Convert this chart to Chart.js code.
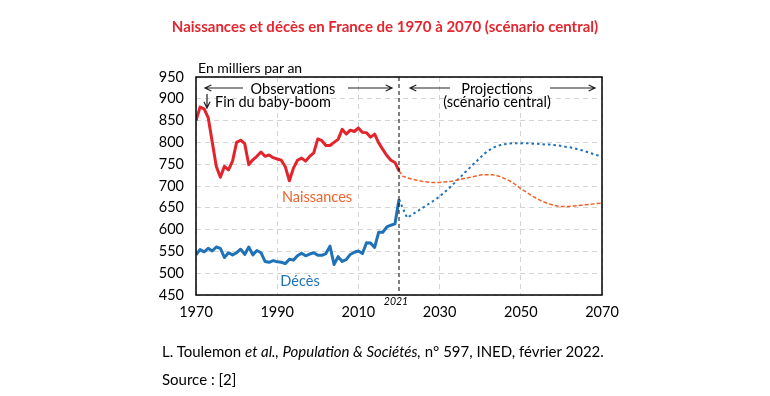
<!DOCTYPE html>
<html>
<head>
<meta charset="utf-8">
<script src="https://cdn.jsdelivr.net/npm/chart.js@4"></script>
<style>
  body { margin: 0; background: #fff; }
  #wrap { position: relative; width: 770px; height: 396px; font-family: Lato, sans-serif; }
  #wrap canvas { position: absolute; left: 0; top: 0; }
  .txt { position: absolute; white-space: nowrap; color: #000; }
  #title { left: 0; width: 770px; text-align: center; top: 17px; font-size: 15px; font-weight: bold; color: #e5262f; }
  #unit { left: 198px; top: 59px; font-size: 14px; }
  #ref { left: 162px; top: 342px; font-size: 15px; }
  #src { left: 162px; top: 370px; font-size: 15px; }
</style>
</head>
<body>
<div id="wrap">
  <canvas id="chart" width="770" height="396"></canvas>
  <div class="txt" id="title">Naissances et décès en France de 1970 à 2070 (scénario central)</div>
  <div class="txt" id="unit">En milliers par an</div>
  <div class="txt" id="ref">L. Toulemon <i>et al., Population &amp; Sociétés,</i> n° 597, INED, février 2022.</div>
  <div class="txt" id="src">Source : [2]</div>
</div>
<script>
'use strict'

// observed years 1970..2020, projection years 2020..2070
const obsStart = 1970;
const projStart = 2020;

// births, thousands (observed)
const birthsObs = [
  850, 881, 877, 857, 801, 745, 720, 745, 737, 757,
  800, 805, 797, 749, 760, 768, 778, 768, 771, 765,
  762, 759, 744, 712, 741, 759, 764, 757, 768, 776,
  808, 804, 793, 793, 800, 807, 830, 819, 828, 825,
  833, 823, 822, 812, 819, 799, 784, 770, 759, 754,
  735
];

// deaths, thousands (observed)
const deathsObs = [
  542, 554, 549, 557, 551, 560, 557, 536, 547, 542,
  547, 555, 543, 560, 542, 552, 547, 527, 525, 529,
  526, 525, 522, 532, 530, 540, 546, 540, 544, 547,
  541, 541, 545, 562, 520, 538, 527, 531, 543, 548,
  551, 545, 570, 569, 559, 594, 594, 606, 610, 613,
  669
];

// central scenario projections
const birthsProj = [
  735, 722, 719, 716, 714, 712, 710, 709, 708, 708,
  708, 709, 710, 711, 713, 715, 717, 719, 721, 723,
  725, 726, 726, 726, 724, 721, 717, 713, 708, 701,
  694, 688, 682, 676, 671, 666, 662, 659, 656, 654,
  653, 653, 653, 654, 655, 656, 657, 658, 659, 660,
  661
];

const deathsProj = [
  669, 648, 627, 633, 639, 645, 651, 657, 663, 669,
  676, 684, 692, 701, 710, 719, 729, 738, 747, 756,
  765, 774, 781, 787, 791, 794, 796, 797, 798, 798,
  798, 798, 798, 797, 797, 796, 795, 795, 794, 793,
  792, 790, 789, 787, 784, 782, 779, 776, 773, 770,
  767
];

const yTicks = [450, 500, 550, 600, 650, 700, 750, 800, 850, 900, 950];
const xTicks = [1970, 1990, 2010, 2030, 2050, 2070];

const RED = '#e3242b';
const BLUE = '#1f72b8';
const ORANGE = '#f0622a';

function pts(start, vals) {
  return vals.map((v, i) => ({ x: start + i, y: v }));
}

function arrow(c, x1, y1, x2, y2) {
  const a = Math.atan2(y2 - y1, x2 - x1);
  c.beginPath();
  c.moveTo(x1, y1);
  c.lineTo(x2, y2);
  c.moveTo(x2 - 7 * Math.cos(a - 0.45), y2 - 7 * Math.sin(a - 0.45));
  c.lineTo(x2, y2);
  c.lineTo(x2 - 7 * Math.cos(a + 0.45), y2 - 7 * Math.sin(a + 0.45));
  c.stroke();
}

const overlay = {
  id: 'overlay',
  afterDatasetsDraw(chart) {
    const c = chart.ctx;
    const a = chart.chartArea;
    const xs = chart.scales.x;
    const x20 = xs.getPixelForValue(projStart);
    c.save();

    // frame
    c.strokeStyle = '#000';
    c.lineWidth = 1.5;
    c.strokeRect(a.left, a.top, a.right - a.left, a.bottom - a.top);

    // separation observed / projected
    c.lineWidth = 1;
    c.setLineDash([4, 3]);
    c.beginPath();
    c.moveTo(x20, a.top);
    c.lineTo(x20, a.bottom);
    c.stroke();
    c.setLineDash([]);

    c.fillStyle = '#000';
    c.font = 'italic 10.5px Lato';
    c.textAlign = 'center';
    c.textBaseline = 'middle';
    c.fillText('2021', x20 - 3, a.bottom + 7);

    c.font = '14.5px Lato';
    c.fillText('Observations', 293, 89);
    c.fillText('Projections', 497, 89);
    c.fillText('(scénario central)', 497, 102);
    c.textAlign = 'left';
    c.fillText('Fin du baby-boom', 215, 102);

    c.strokeStyle = '#222';
    c.lineWidth = 1.2;
    arrow(c, 243, 88, 205, 88);
    arrow(c, 348, 88, 392, 88);
    arrow(c, 450, 88, 410, 88);
    arrow(c, 550, 88, 595, 88);
    arrow(c, 207, 94, 207, 108);

    c.textAlign = 'center';
    c.fillStyle = ORANGE;
    c.fillText('Naissances', 317, 197);
    c.fillStyle = BLUE;
    c.fillText('Décès', 300, 281);
    c.restore();
  }
};

new Chart(document.getElementById('chart'), {
  type: 'line',
  data: {
    datasets: [
      { data: pts(obsStart, birthsObs), borderColor: RED, borderWidth: 3 },
      { data: pts(obsStart, deathsObs), borderColor: BLUE, borderWidth: 3 },
      { data: pts(projStart, birthsProj), borderColor: ORANGE, borderWidth: 1.5, borderDash: [4, 2] },
      { data: pts(projStart, deathsProj), borderColor: BLUE, borderWidth: 2, borderDash: [2.5, 3] }
    ]
  },
  options: {
    responsive: false,
    animation: false,
    events: [],
    elements: { point: { radius: 0 }, line: { tension: 0, borderJoinStyle: 'round' } },
    layout: { padding: { top: 77, right: 168, bottom: 0, left: 0 } },
    plugins: { legend: { display: false }, tooltip: { enabled: false } },
    scales: {
      x: {
        type: 'linear',
        min: 1970,
        max: 2070,
        afterFit: s => { s.height = 101; },
        afterBuildTicks: s => { s.ticks = xTicks.map(v => ({ value: v })); },
        ticks: { color: '#000', font: { family: 'Lato', size: 14.5 }, padding: 9, maxRotation: 0, callback: v => String(v) },
        grid: { color: '#d4d4d4', drawTicks: false },
        border: { display: false, dash: [5, 4] }
      },
      y: {
        min: 450,
        max: 950,
        afterFit: s => { s.width = 196; },
        afterBuildTicks: s => { s.ticks = yTicks.map(v => ({ value: v })); },
        ticks: { color: '#000', font: { family: 'Lato', size: 14.5 }, padding: 12 },
        grid: { color: '#d4d4d4', drawTicks: false },
        border: { display: false, dash: [5, 4] }
      }
    }
  },
  plugins: [overlay]
});
</script>
</body>
</html>
